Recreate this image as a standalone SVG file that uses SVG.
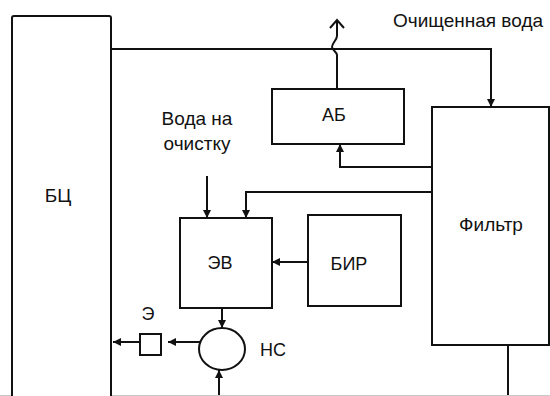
<svg xmlns="http://www.w3.org/2000/svg" width="550" height="396" viewBox="0 0 550 396">
<style>
.box{fill:#fff;stroke:#111;stroke-width:2}
.ln{fill:none;stroke:#111;stroke-width:2}
.t{font-family:"Liberation Sans",Arial,sans-serif;font-size:19px;fill:#111;text-anchor:middle}
.s{font-size:18px}
</style>
<defs>
<marker id="ah" markerUnits="userSpaceOnUse" markerWidth="9" markerHeight="9" refX="8" refY="4" orient="auto">
<path d="M0,0 L8,4 L0,8 z" fill="#111"/>
</marker>
</defs>
<rect width="550" height="396" fill="#fff"/>
<g id="connectors">
<path class="ln" d="M111,49 H491 V107" marker-end="url(#ah)"/>
<path class="ln" d="M337,89 V55 C337,52 332,50 332,47 C332,43 337,40 337,36 V20"/>
<polyline class="ln" points="330,28 337,20 344,28"/>
<path class="ln" d="M432,167 H340 V144" marker-end="url(#ah)"/>
<path class="ln" d="M432,192 H246 V218" marker-end="url(#ah)"/>
<path class="ln" d="M207,176 V218" marker-end="url(#ah)"/>
<path class="ln" d="M308,262 H272" marker-end="url(#ah)"/>
<path class="ln" d="M222,308 V328" marker-end="url(#ah)"/>
<path class="ln" d="M219,396 V370" marker-end="url(#ah)"/>
<path class="ln" d="M200,342 H168" marker-end="url(#ah)"/>
<path class="ln" d="M140,342 H113" marker-end="url(#ah)"/>
<path class="ln" d="M508,345 V396"/>
<line x1="0" y1="395.5" x2="550" y2="395.5" stroke="#c8c8c8" stroke-width="1"/>
</g>
<g id="BC">
<rect class="box" x="12" y="16" width="99" height="400" rx="2"/>
<text class="t" x="58" y="202">БЦ</text>
</g>
<g id="AB">
<rect class="box" x="272" y="89" width="132" height="55"/>
<text class="t s" x="334" y="121">АБ</text>
</g>
<g id="Filter">
<rect class="box" x="432" y="107" width="117" height="238"/>
<text class="t" x="491" y="231">Фильтр</text>
</g>
<g id="EV">
<rect class="box" x="180" y="218" width="92" height="90"/>
<text class="t s" x="220" y="269">ЭВ</text>
</g>
<g id="BIR">
<rect class="box" x="308" y="215" width="93" height="91"/>
<text class="t s" x="349" y="270">БИР</text>
</g>
<g id="NS">
<ellipse class="box" cx="222" cy="349" rx="23" ry="21"/>
<text class="t s" x="273" y="356">НС</text>
</g>
<g id="E">
<rect class="box" x="140" y="334" width="21" height="21"/>
<text class="t s" x="148" y="320">Э</text>
</g>
<g id="labels">
<text class="t" x="197" y="125">Вода на</text>
<text class="t" x="197" y="150">очистку</text>
<text class="t" x="468" y="27">Очищенная вода</text>
</g>
</svg>
